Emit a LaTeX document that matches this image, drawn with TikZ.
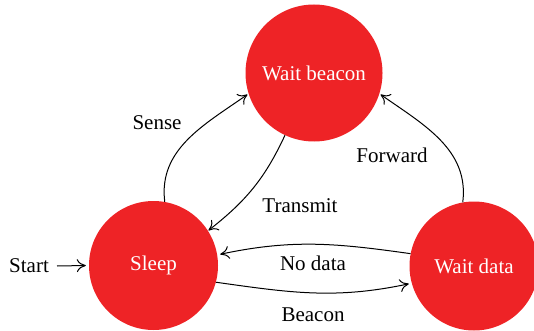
\documentclass[tikz,border=0pt]{standalone}
\usepackage{fontspec}
\usetikzlibrary{arrows.meta}
\setmainfont{Liberation Serif}
\definecolor{statered}{HTML}{EE2326}
\begin{document}
\begin{tikzpicture}[x=1pt,y=-1pt,
  state/.style={circle,fill=statered,text=white,inner sep=0pt,font=\fontsize{21}{25}\selectfont},
  lbl/.style={font=\fontsize{21}{25}\selectfont,inner sep=0pt},
  conn/.style={-{Computer Modern Rightarrow[length=9pt,width=13pt,line width=1pt]},line width=1pt,black}]
\useasboundingbox (0,0) rectangle (534,331);
\node[state,minimum size=137pt] (wb) at (314,73) {Wait beacon};
\node[state,minimum size=129pt] (sl) at (153.5,265.5) {Sleep};
\node[state,minimum size=129pt] (wd) at (474,266) {Wait data};
\node[lbl] (start) at (29,266) {Start};
\coordinate (st) at (57,266);
\draw[conn] (st) -- ([xshift=-3pt]sl.west);
\draw[conn] (sl.80) to[out=97,in=215] ([shift={(-2pt,2pt)}]wb.200);
\draw[conn] (wb.245) to[out=245,in=38] ([shift={(2pt,-2pt)}]sl.35);
\draw[conn] (wd.100) to[out=83,in=325] ([shift={(2pt,2pt)}]wb.340);
\draw[conn] (wd.169) to[out=172,in=12] ([xshift=3pt]sl.10);
\draw[conn] (sl.345) to[out=-8,in=192] ([xshift=-3pt]wd.196);
\node[lbl] (sense) at (157,123) {Sense};
\node[lbl] (transmit) at (300,206) {Transmit};
\node[lbl] (forward) at (392,155) {Forward};
\node[lbl] (nodata) at (313,263) {No data};
\node[lbl] (beacon) at (313,315) {Beacon};
\end{tikzpicture}
\end{document}
